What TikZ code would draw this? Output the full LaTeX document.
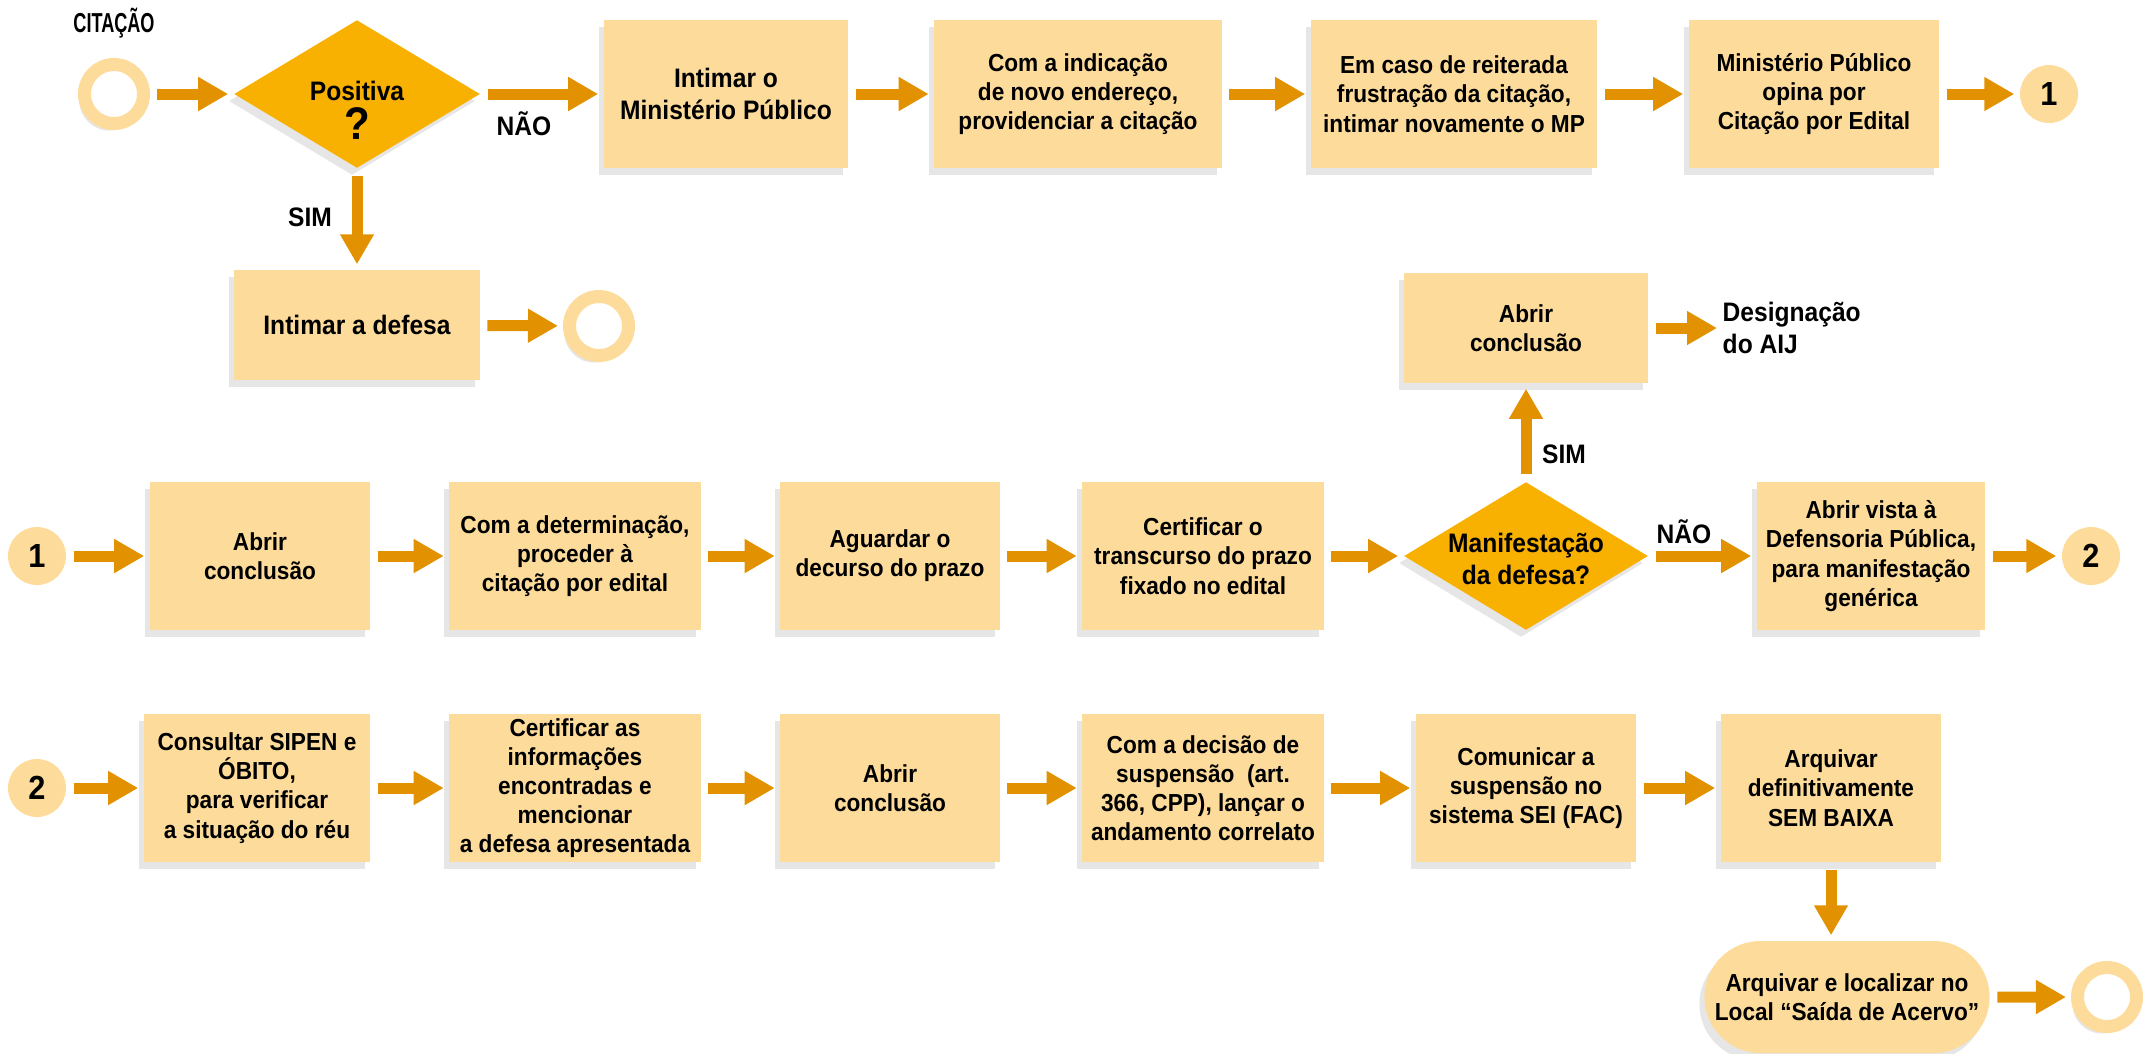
\documentclass[tikz,border=0pt]{standalone}
\usepackage{fontspec}
\setmainfont{Liberation Sans}[FakeStretch=0.92]
\newfontfamily\narrowfont{Liberation Sans}[FakeStretch=0.66]
\usetikzlibrary{shapes.geometric,shapes.misc,arrows.meta,shadows}

\definecolor{boxc}{RGB}{253,220,155}
\definecolor{diac}{RGB}{248,177,0}
\definecolor{arrc}{RGB}{226,146,0}
\newcommand\flowfont{\bfseries\fontsize{7}{8.3}\selectfont}
\newcommand\bigflowfont{\bfseries\fontsize{7.6}{9}\selectfont}

\tikzset{
  softshadow/.style={drop shadow={shadow xshift=-0.5mm, shadow yshift=-0.7mm, opacity=0.2}},
  box/.style={rectangle, fill=boxc, inner sep=0pt, align=center, font=\flowfont, minimum height=1.48cm, softshadow},
  decision/.style={diamond, fill=diac, inner sep=0pt, minimum width=2.46cm, minimum height=1.48cm, softshadow},
  ring/.style={circle, draw=boxc, line width=0.13cm, fill=white, inner sep=0pt, minimum size=0.59cm, softshadow},
  conn/.style={circle, fill=boxc, inner sep=0pt, minimum size=0.58cm, font=\bfseries\fontsize{9.5}{9.5}\selectfont},
  flow/.style={draw=arrc, line width=0.11cm, -{Triangle[width=0.32cm, length=0.3cm]}, shorten <=0.07cm, shorten >=0.05cm},
  lbl/.style={inner sep=0pt, align=center, font=\bigflowfont}
}

\begin{document}
\begin{tikzpicture}[x=0.01cm, y=-0.01cm]
    \useasboundingbox (0,0) rectangle (2143,1053);

    % Row 1
    \node[lbl, font=\narrowfont\bfseries\fontsize{7.8}{9}\selectfont] (cit) at (114,23) {CITAÇÃO};
    \node[ring] (start) at (114,94) {};
    \node[decision] (pos) at (357,94) {};
    \node[lbl] (postxt) at (357,110) {Positiva\\[1pt]\fontsize{13}{13}\selectfont ?};
    \node[box, minimum width=2.44cm, font=\bigflowfont] (mp1) at (726,94) {Intimar o\\Ministério Público};
    \node[box, minimum width=2.87cm] (ind) at (1078,94) {Com a indicação\\de novo endereço,\\providenciar a citação};
    \node[box, minimum width=2.86cm] (rei) at (1454,94) {Em caso de reiterada\\frustração da citação,\\intimar novamente o MP};
    \node[box, minimum width=2.50cm] (opi) at (1814,94) {Ministério Público\\opina por\\Citação por Edital};
    \node[conn] (c1a) at (2049,94) {1};
    \node[lbl] (nao1) at (524,124) {NÃO};
    \node[lbl] (sim1) at (310,217) {SIM};
    \node[box, minimum width=2.45cm, minimum height=1.10cm, font=\bigflowfont] (def) at (357,325) {Intimar a defesa};
    \node[ring] (end1) at (599,326) {};

    % Upper right
    \node[box, minimum width=2.44cm, minimum height=1.10cm] (ab2) at (1526,328) {Abrir\\conclusão};
    \node[lbl, anchor=west, align=left] (des) at (1722,328) {Designação\\do AIJ};
    \node[lbl] (sim2) at (1564,454) {SIM};
    \node[lbl] (nao2) at (1684,532) {NÃO};

    % Row 2
    \node[conn] (c1b) at (37,556) {1};
    \node[box, minimum width=2.20cm] (ab1) at (260,556) {Abrir\\conclusão};
    \node[box, minimum width=2.51cm] (det) at (575,556) {Com a determinação,\\proceder à\\citação por edital};
    \node[box, minimum width=2.19cm] (agu) at (890,556) {Aguardar o\\decurso do prazo};
    \node[box, minimum width=2.41cm] (cer) at (1203,556) {Certificar o\\transcurso do prazo\\fixado no edital};
    \node[decision, minimum width=2.44cm] (man) at (1526,556) {};
    \node[lbl] (mantxt) at (1526,559) {Manifestação\\da defesa?};
    \node[box, minimum width=2.28cm] (vis) at (1871,556) {Abrir vista à\\Defensoria Pública,\\para manifestação\\genérica};
    \node[conn] (c2a) at (2091,556) {2};

    % Row 3
    \node[conn] (c2b) at (37,788) {2};
    \node[box, minimum width=2.26cm] (sip) at (257,788) {Consultar SIPEN e\\ÓBITO,\\para verificar\\a situação do réu};
    \node[box, minimum width=2.51cm] (inf) at (575,788) {Certificar as\\informações\\encontradas e\\mencionar\\a defesa apresentada};
    \node[box, minimum width=2.19cm] (ab3) at (890,788) {Abrir\\conclusão};
    \node[box, minimum width=2.41cm] (dec) at (1203,788) {Com a decisão de\\suspensão~ (art.\\366, CPP), lançar o\\andamento correlato};
    \node[box, minimum width=2.20cm] (com) at (1526,788) {Comunicar a\\suspensão no\\sistema SEI (FAC)};
    \node[box, minimum width=2.20cm] (arq) at (1831,788) {Arquivar\\definitivamente\\SEM BAIXA};
    \node[box, rounded rectangle, minimum width=2.85cm, minimum height=1.12cm] (loc) at (1847,997) {Arquivar e localizar no\\Local “Saída de Acervo”};
    \node[ring] (end2) at (2107,997) {};

    % Connectors
    \draw[flow] (start) -- (pos);
    \draw[flow] (pos) -- (mp1);
    \draw[flow] (mp1) -- (ind);
    \draw[flow] (ind) -- (rei);
    \draw[flow] (rei) -- (opi);
    \draw[flow] (opi) -- (c1a);
    \draw[flow] (pos) -- (def);
    \draw[flow] (def) -- (end1);
    \draw[flow] (c1b) -- (ab1);
    \draw[flow] (ab1) -- (det);
    \draw[flow] (det) -- (agu);
    \draw[flow] (agu) -- (cer);
    \draw[flow] (cer) -- (man);
    \draw[flow] (man) -- (vis);
    \draw[flow] (vis) -- (c2a);
    \draw[flow] (man) -- (ab2);
    \draw[flow] (ab2) -- (des);
    \draw[flow] (c2b) -- (sip);
    \draw[flow] (sip) -- (inf);
    \draw[flow] (inf) -- (ab3);
    \draw[flow] (ab3) -- (dec);
    \draw[flow] (dec) -- (com);
    \draw[flow] (com) -- (arq);
    \draw[flow] (arq.south) -- (arq.south |- loc.north);
    \draw[flow] (loc) -- (end2);
\end{tikzpicture}
\end{document}
